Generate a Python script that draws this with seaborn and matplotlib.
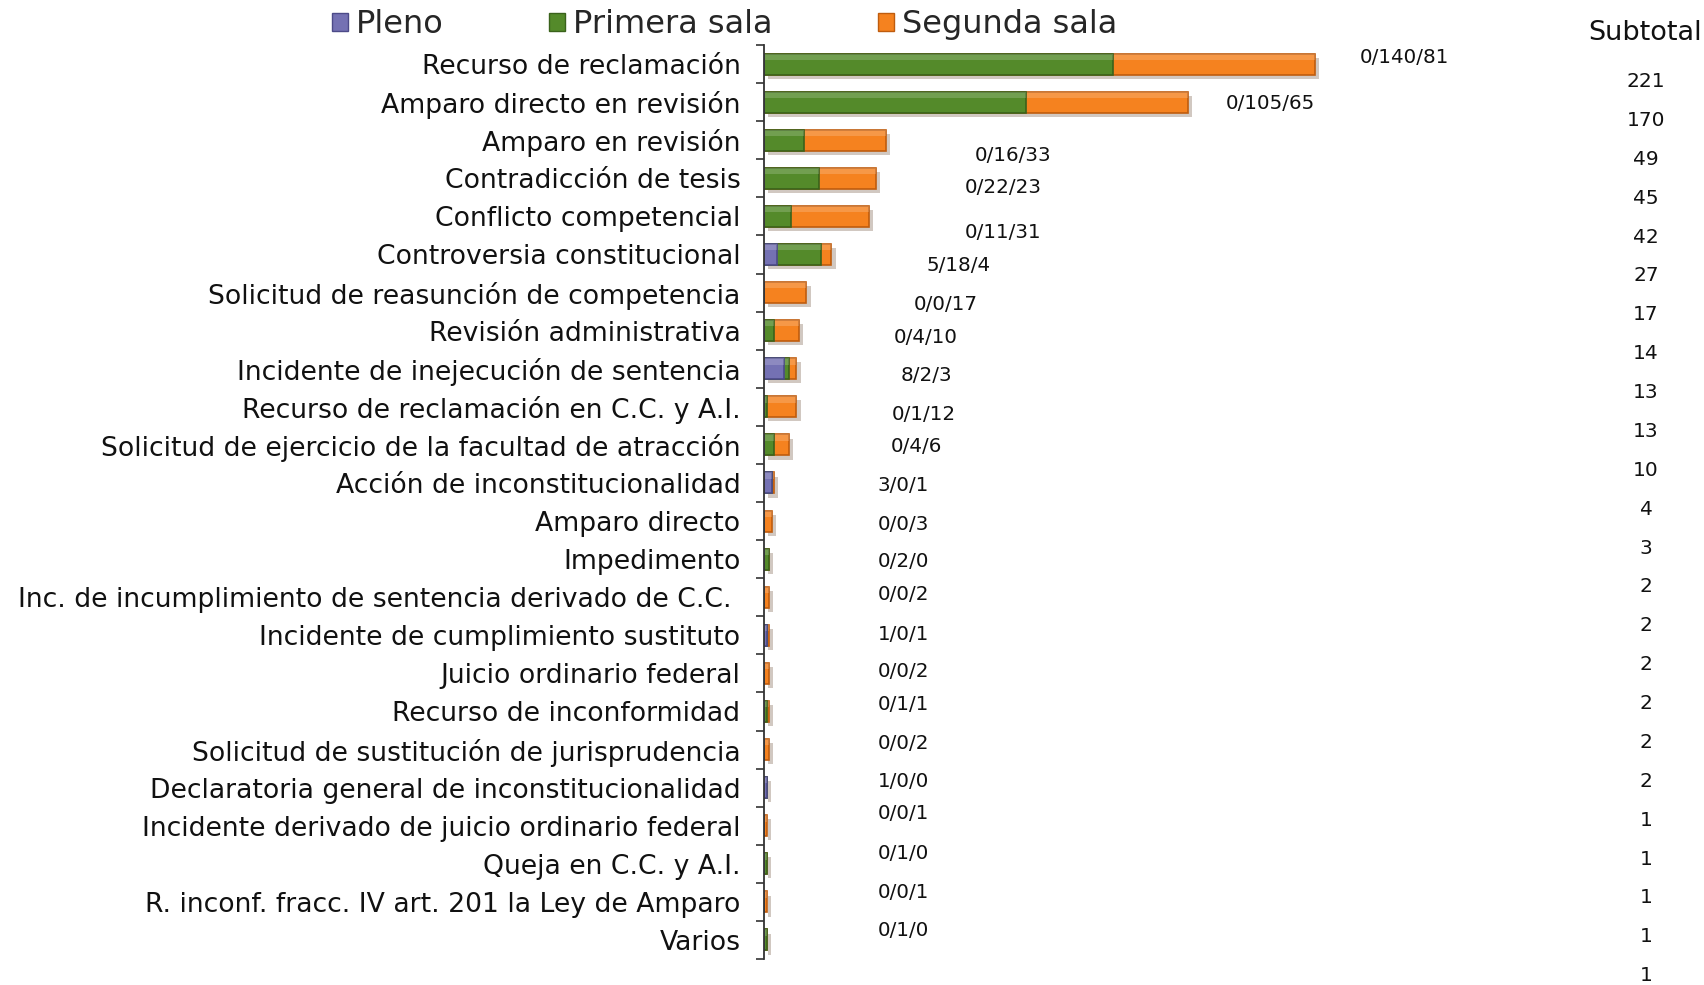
import pandas as pd
import seaborn as sns
import matplotlib.pyplot as plt
import matplotlib.patheffects as path_effects
from matplotlib.patches import Patch, Rectangle

categories = [
    "Recurso de reclamación",
    "Amparo directo en revisión",
    "Amparo en revisión",
    "Contradicción de tesis",
    "Conflicto competencial",
    "Controversia constitucional",
    "Solicitud de reasunción de competencia",
    "Revisión administrativa",
    "Incidente de inejecución de sentencia",
    "Recurso de reclamación en C.C. y A.I.",
    "Solicitud de ejercicio de la facultad de atracción",
    "Acción de inconstitucionalidad",
    "Amparo directo",
    "Impedimento",
    "Inc. de incumplimiento de sentencia derivado de C.C. ",
    "Incidente de cumplimiento sustituto",
    "Juicio ordinario federal",
    "Recurso de inconformidad",
    "Solicitud de sustitución de jurisprudencia",
    "Declaratoria general de inconstitucionalidad",
    "Incidente derivado de juicio ordinario federal",
    "Queja en C.C. y A.I.",
    "R. inconf. fracc. IV art. 201 la Ley de Amparo",
    "Varios",
]
pleno = [0, 0, 0, 0, 0, 5, 0, 0, 8, 0, 0, 3, 0, 0, 0, 1, 0, 0, 0, 1, 0, 0, 0, 0]
primera = [140, 105, 16, 22, 11, 18, 0, 4, 2, 1, 4, 0, 0, 2, 0, 0, 0, 1, 0, 0, 0, 1, 0, 1]
segunda = [81, 65, 33, 23, 31, 4, 17, 10, 3, 12, 6, 1, 3, 0, 2, 1, 2, 1, 2, 0, 1, 0, 1, 0]
subtotal = [221, 170, 49, 45, 42, 27, 17, 14, 13, 13, 10, 4, 3, 2, 2, 2, 2, 2, 2, 1, 1, 1, 1, 1]
series_names = ["Pleno", "Primera sala", "Segunda sala"]

# label placement (as positioned by hand in the original chart)
label_x = [257, 203, 100, 96, 96, 78, 73, 65, 65, 64, 61, 56,
           56, 56, 56, 56, 56, 56, 56, 56, 56, 56, 56, 56]
label_dy = [-0.17, 0.03, 0.40, 0.25, 0.42, 0.28, 0.31, 0.19, 0.19, 0.19, 0.05, 0.07,
            0.10, 0.07, -0.07, -0.02, -0.05, -0.19, -0.16, -0.17, -0.31, -0.28, -0.25, -0.25]

#          (fill, edge)
colors = {
    "Pleno": ("#7471B3", "#4C4A88"),
    "Primera sala": ("#548A2A", "#3A621B"),
    "Segunda sala": ("#F5821F", "#BF5C0E"),
}

df = pd.DataFrame({"cat": categories, "pleno": pleno, "primera": primera, "segunda": segunda})
df["lvl_pleno"] = df["pleno"]
df["lvl_primera"] = df["pleno"] + df["primera"]
df["lvl_total"] = df["pleno"] + df["primera"] + df["segunda"]

sns.set_style("white")
plt.rcParams["font.family"] = ["DejaVu Sans"]

fig = plt.figure(figsize=(17.04, 9.85), dpi=100)
ax = fig.add_axes([0.4484, 0.0264, 0.5016, 0.9279])

layers = [("lvl_total", "Segunda sala"), ("lvl_primera", "Primera sala"), ("lvl_pleno", "Pleno")]
for i, (col, name) in enumerate(layers):
    n_before = len(ax.patches)
    sns.barplot(data=df, x=col, y="cat", orient="h", color=colors[name][0], width=0.55,
                edgecolor=colors[name][1], linewidth=1.2, saturation=1, ax=ax)
    new_bars = list(ax.patches[n_before:])
    if i == 0:
        # soft drop shadow under the full bars
        for p in new_bars:
            p.set_path_effects([path_effects.SimplePatchShadow(offset=(3, -3), alpha=0.25),
                                path_effects.Normal()])
    # light bevel on the upper part of each bar segment
    for p in new_bars:
        if p.get_width() > 0:
            ax.add_patch(Rectangle((p.get_x(), p.get_y()), p.get_width(), p.get_height() * 0.3,
                                   facecolor="white", alpha=0.18, linewidth=0, zorder=p.get_zorder()))

ax.set_xlim(0, 343)
ax.set_ylim(len(categories) - 0.5, -0.5)
ax.set(xlabel=None, ylabel=None)
ax.set_xticks([])
for side in ["top", "right", "bottom"]:
    ax.spines[side].set_visible(False)
ax.spines["left"].set_color("#333333")
ax.spines["left"].set_linewidth(1.3)

# Excel style: ticks between categories, labels at the centre
ax.set_yticks([i - 0.5 for i in range(len(categories) + 1)], minor=True)
ax.tick_params(axis="y", which="minor", length=6, width=1.2, color="#333333", direction="out", left=True)
ax.tick_params(axis="y", which="major", length=0, pad=17, labelsize=19.2, labelcolor="#111111")

for i in range(len(categories)):
    ax.text(label_x[i], i + label_dy[i], f"{pleno[i]}/{primera[i]}/{segunda[i]}",
            ha="center", va="center", fontsize=14.3, color="#111111")

# subtotal column
fig.text(0.9654, 0.967, "Subtotal", ha="center", va="center", fontsize=19.5, color="#111111")
for i, val in enumerate(subtotal):
    fig.text(0.966, 1 - (81.5 + i * 38.88) / 985, str(val), ha="center", va="center",
             fontsize=14.5, color="#111111")

legend_patches = [Patch(facecolor=colors[n][0], edgecolor=colors[n][1], label=n) for n in series_names]
fig.legend(handles=legend_patches, loc="center", bbox_to_anchor=(0.425, 0.975), ncol=3,
           frameon=False, fontsize=23, handlelength=0.5, handleheight=0.5,
           handletextpad=0.25, columnspacing=3.3, borderaxespad=0, borderpad=0)

plt.savefig("out.png", dpi=100)
plt.close()
